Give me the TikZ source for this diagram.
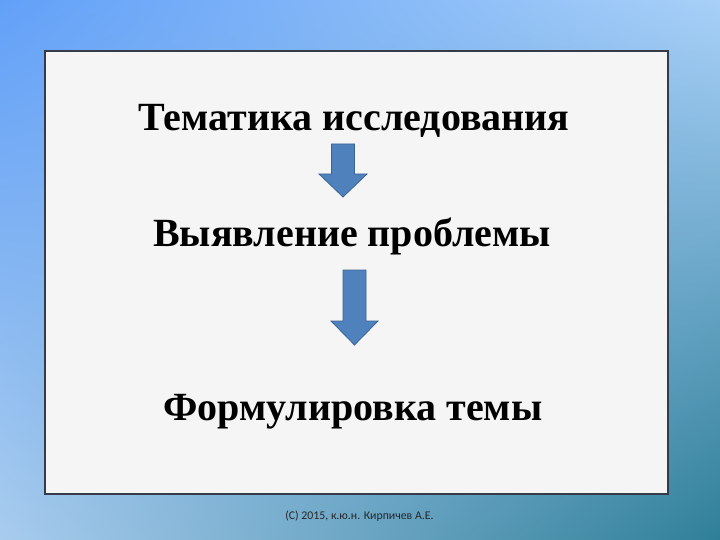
\documentclass[tikz,border=0pt]{standalone}
\usepackage{fontspec}
\usetikzlibrary{shadings}
\setmainfont{Liberation Serif}
\newfontfamily\footfont{Carlito}
\definecolor{bgtl}{HTML}{62A0F8}
\definecolor{bgtr}{HTML}{A8D0F8}
\definecolor{bgbl}{HTML}{A8CCEE}
\definecolor{bgbr}{HTML}{2F7F98}
\definecolor{panelfill}{HTML}{F6F5F5}
\definecolor{panelline}{HTML}{333C48}
\definecolor{arrowfill}{HTML}{4F81BD}
\definecolor{arrowline}{HTML}{3A6496}
\tikzset{
  steptext/.style={font=\fontsize{40}{44}\selectfont\bfseries, inner sep=0pt, anchor=base},
  blockarrow/.style={fill=arrowfill, draw=arrowline, line width=0.8pt, line join=miter},
  foottext/.style={font=\footfont\fontsize{11.8}{13}\selectfont, text=black!85, inner sep=0pt, anchor=base}
}

\begin{document}
\begin{tikzpicture}[x=1pt, y=-1pt]
\useasboundingbox (0,0) rectangle (720,540);
\shade[upper left=bgtl, upper right=bgtr, lower left=bgbl, lower right=bgbr] (0,0) rectangle (720,540);
\draw[fill=panelfill, draw=panelline, line width=2pt] (45,51) rectangle (668,494);
\node[steptext] (topic) at (354,131) {Тематика исследования};
\node[steptext] (problem) at (352,247) {Выявление проблемы};
\node[steptext] (theme) at (353,420) {Формулировка темы};
\draw[blockarrow] (331.5,144) -- (354.5,144) -- (354.5,174) -- (367,174) -- (343,197) -- (319,174) -- (331.5,174) -- cycle;
\draw[blockarrow] (343,270) -- (366,270) -- (366,321) -- (378,321) -- (354.5,345) -- (331,321) -- (343,321) -- cycle;
\node[foottext] (credit) at (359.5,519) {(C) 2015, к.ю.н. Кирпичев А.Е.};
\end{tikzpicture}
\end{document}
